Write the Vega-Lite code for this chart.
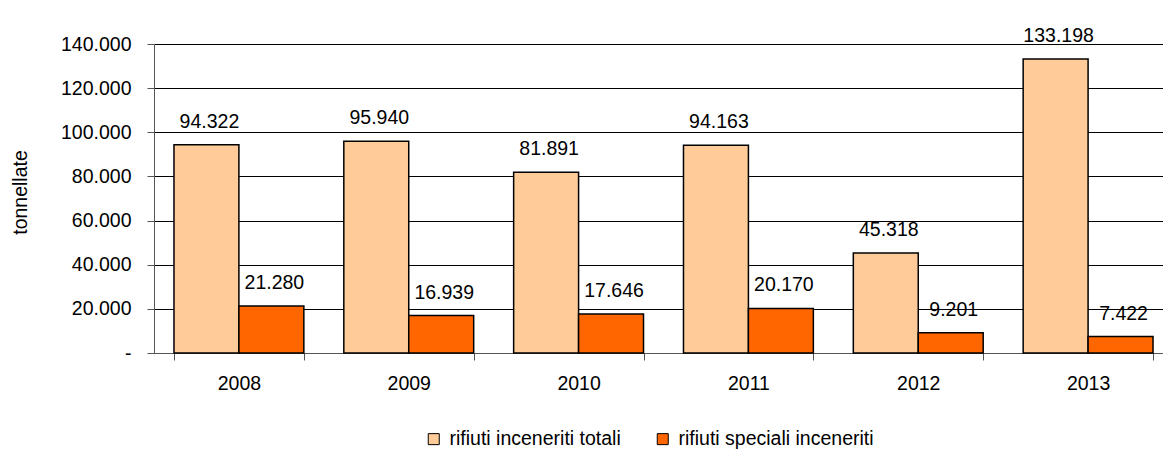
{
  "$schema": "https://vega.github.io/schema/vega-lite/v6.json",
  "autosize": {"type": "none"},
  "padding": {"left": 154, "top": 44, "right": 0, "bottom": 98},
  "width": 1009,
  "height": 309,
  "config": {
    "locale": {"number": {"decimal": ",", "thousands": ".", "grouping": [3], "currency": ["€", ""]}},
    "font": "Liberation Sans",
    "view": {"stroke": null},
    "axis": {"labelFont": "Liberation Sans", "titleFont": "Liberation Sans", "labelColor": "#000", "titleColor": "#000"}
  },
  "data": {
    "values": [
      {"anno": "2008", "serie": "rifiuti inceneriti totali", "valore": 94322},
      {"anno": "2008", "serie": "rifiuti speciali inceneriti", "valore": 21280},
      {"anno": "2009", "serie": "rifiuti inceneriti totali", "valore": 95940},
      {"anno": "2009", "serie": "rifiuti speciali inceneriti", "valore": 16939},
      {"anno": "2010", "serie": "rifiuti inceneriti totali", "valore": 81891},
      {"anno": "2010", "serie": "rifiuti speciali inceneriti", "valore": 17646},
      {"anno": "2011", "serie": "rifiuti inceneriti totali", "valore": 94163},
      {"anno": "2011", "serie": "rifiuti speciali inceneriti", "valore": 20170},
      {"anno": "2012", "serie": "rifiuti inceneriti totali", "valore": 45318},
      {"anno": "2012", "serie": "rifiuti speciali inceneriti", "valore": 9201},
      {"anno": "2013", "serie": "rifiuti inceneriti totali", "valore": 133198},
      {"anno": "2013", "serie": "rifiuti speciali inceneriti", "valore": 7422}
    ]
  },
  "encoding": {
    "x": {
      "field": "anno", "type": "nominal",
      "scale": {"range": [0, 1019], "paddingInner": 0.2353, "paddingOuter": 0.1176},
      "axis": {
        "title": null, "labelAngle": 0, "labelFontSize": 19.5, "tickBand": "extent",
        "tickSize": 7, "tickColor": "#555", "domainColor": "#555", "labelPadding": 14
      }
    },
    "xOffset": {
      "field": "serie", "type": "nominal",
      "sort": ["rifiuti inceneriti totali", "rifiuti speciali inceneriti"],
      "scale": {"paddingInner": 0, "paddingOuter": 0}
    },
    "y": {
      "field": "valore", "type": "quantitative",
      "scale": {"domain": [0, 140000], "nice": false},
      "axis": {
        "title": "tonnellate", "titleFontSize": 19.5, "titleFontWeight": "normal",
        "titleAngle": -90, "titleX": -134, "titleY": 148, "titleAlign": "center", "titleBaseline": "middle",
        "values": [0, 20000, 40000, 60000, 80000, 100000, 120000, 140000],
        "labelExpr": "datum.value == 0 ? '-' : format(datum.value, ',')",
        "labelFontSize": 19.5, "labelPadding": 16, "tickSize": 7,
        "tickColor": "#555", "domainColor": "#555",
        "grid": true, "gridColor": "#000", "gridWidth": 1
      }
    }
  },
  "layer": [
    {
      "mark": {"type": "bar", "stroke": "#000", "strokeWidth": 1.5},
      "encoding": {
        "color": {
          "field": "serie", "type": "nominal",
          "scale": {"domain": ["rifiuti inceneriti totali", "rifiuti speciali inceneriti"], "range": ["#FFCC99", "#FF6600"]},
          "legend": {
            "title": null, "orient": "none", "direction": "horizontal",
            "legendX": 270, "legendY": 385,
            "symbolType": "square", "symbolSize": 121, "symbolStrokeColor": "#000", "symbolStrokeWidth": 1,
            "labelFontSize": 19.5, "labelFont": "Liberation Sans", "labelColor": "#000", "labelOffset": 6,
            "labelLimit": 0, "columnPadding": 32
          }
        }
      }
    },
    {
      "mark": {"type": "text", "fontSize": 19.5, "baseline": "alphabetic", "dy": -17, "dx": 3, "color": "#000"},
      "encoding": {
        "text": {"field": "valore", "type": "quantitative", "format": ","}
      }
    }
  ]
}
